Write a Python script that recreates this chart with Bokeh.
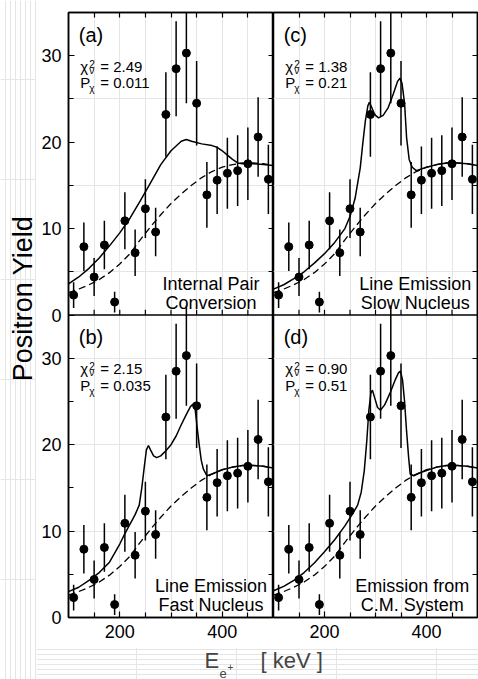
import numpy as np
from bokeh.plotting import figure
from bokeh.models import LinearAxis, FixedTicker, Label, Range1d, ColumnDataSource, Span
from bokeh.layouts import row, column
from bokeh.embed import file_html
from bokeh.resources import INLINE

FONT = "Liberation Sans"

# ---------------- data ----------------
energy = [110, 130, 150, 170, 190, 210, 230, 250, 270, 290,
          310, 330, 350, 370, 390, 410, 430, 450, 470, 490]
yield_counts = [2.3, 7.9, 4.4, 8.1, 1.5, 10.9, 7.2, 12.3, 9.6, 23.2,
                28.5, 30.3, 24.5, 13.9, 15.6, 16.4, 16.7, 17.5, 20.6, 15.7]
yield_err = [1.5, 2.8, 2.2, 2.8, 1.2, 3.3, 2.7, 3.4, 2.8, 4.9,
             5.5, 5.8, 4.9, 3.8, 3.9, 4.1, 4.1, 4.2, 4.6, 4.0]

# dashed background curve
bg_x = [100, 120, 140, 160, 180, 200, 220, 240, 260, 280, 300,
        320, 340, 360, 380, 400, 420, 440, 460, 480, 500]
bg_y = [2.6, 3.0, 3.5, 4.1, 4.9, 5.9, 7.1, 8.7, 10.2, 11.6, 12.9,
        14.0, 15.0, 15.9, 16.6, 17.1, 17.4, 17.6, 17.6, 17.5, 17.3]

# (a) internal pair conversion fit
fit_a_x = [100, 120, 140, 160, 180, 200, 220, 240, 260, 280, 300, 320, 330,
           340, 360, 380, 390, 400, 410, 420, 430, 440, 460, 480, 500]
fit_a_y = [3.6, 4.4, 5.4, 6.6, 8.0, 9.5, 11.2, 13.2, 15.3, 17.4, 19.0, 20.1, 20.3,
           20.1, 19.8, 19.6, 19.4, 19.0, 18.5, 18.0, 17.6, 17.5, 17.5, 17.4, 17.3]

# (b) line emission, fast nucleus
fit_b_x = [100, 120, 140, 160, 180, 200, 210, 220, 230, 238, 243, 248, 252, 256,
           260, 266, 272, 280, 290, 300, 310, 320, 330, 338, 343, 347, 351, 355,
           359, 363, 370, 380, 400, 420, 440, 460, 480, 500]
fit_b_y = [3.0, 3.5, 4.3, 5.2, 6.4, 8.5, 9.7, 10.8, 11.9, 13.0, 15.0, 17.5, 19.4, 19.9,
           19.4, 18.7, 18.5, 18.7, 19.3, 20.0, 21.0, 22.3, 23.5, 24.4, 24.7, 24.2, 22.0, 20.0,
           18.2, 17.2, 16.4, 16.6, 17.1, 17.4, 17.6, 17.6, 17.5, 17.3]

# (c) line emission, slow nucleus
fit_c_x = [100, 120, 140, 160, 180, 200, 220, 240, 250, 260, 270, 275, 280, 285,
           288, 292, 297, 300, 306, 315, 325, 335, 343, 348, 352, 357, 361, 366,
           372, 380, 400, 420, 440, 460, 480, 500]
fit_c_y = [3.0, 3.5, 4.2, 5.0, 6.0, 7.1, 8.4, 10.0, 11.4, 13.5, 17.0, 19.8, 22.4, 24.2,
           24.6, 24.1, 23.4, 23.1, 22.8, 23.1, 24.0, 25.6, 27.0, 27.4, 26.8, 24.5, 20.5, 18.0,
           17.1, 16.7, 17.1, 17.4, 17.6, 17.6, 17.5, 17.3]

# (d) emission from the C.M. system
fit_d_x = [100, 120, 140, 160, 180, 200, 220, 240, 255, 265, 272, 278, 283, 287,
           291, 294, 298, 304, 310, 318, 328, 338, 345, 349, 353, 357, 361, 365,
           368, 375, 390, 400, 420, 440, 460, 480, 500]
fit_d_y = [3.1, 3.6, 4.3, 5.2, 6.3, 7.6, 9.0, 10.6, 12.0, 13.0, 14.5, 17.0, 20.5, 24.0,
           26.0, 26.3, 25.5, 24.3, 24.0, 24.6, 25.9, 27.4, 28.3, 28.5, 27.5, 25.0, 21.5, 18.5,
           16.6, 16.4, 16.8, 17.0, 17.4, 17.6, 17.6, 17.5, 17.3]

panel_tags = ["(a)", "(b)", "(c)", "(d)"]
chi2_values = ["2.49", "2.15", "1.38", "0.90"]
p_values = ["0.011", "0.035", "0.21", "0.51"]
descriptions = [["Internal Pair", "Conversion"],
                ["Line Emission", "Fast Nucleus"],
                ["Line Emission", "Slow Nucleus"],
                ["Emission from", "C.M. System"]]
x_ticks = [200, 400]
x_minor = [150, 250, 300, 350, 450]
y_ticks = [0, 10, 20, 30]
y_minor = [5, 15, 25]
Y_MAX = 35  # each panel spans 0..35

# ---------------- layout ----------------
YLAB_W = 36
LEFT_B = 32
FRAME_W_L, FRAME_W_R = 205, 204
FRAME_H = 605
TOP_B = 12
BOT_B = 30
XLAB_H = 32


def style_axis(ax):
    ax.major_tick_in = 6
    ax.major_tick_out = 0
    ax.minor_tick_in = 5
    ax.minor_tick_out = 0
    ax.major_tick_line_width = 1.2
    ax.minor_tick_line_width = 1.2
    ax.axis_line_width = 1.5
    ax.axis_line_color = "black"
    ax.major_tick_line_color = "black"
    ax.minor_tick_line_color = "black"
    ax.major_label_text_font = FONT
    ax.major_label_text_font_size = "18px"
    ax.major_label_text_color = "black"
    ax.major_label_standoff = 7
    return ax


def tick_only_axis(positions):
    ax = LinearAxis(ticker=FixedTicker(ticks=[], minor_ticks=sorted(positions)))
    style_axis(ax)
    ax.major_label_standoff = 0
    return ax


def draw_panel(p, idx, fit_x, fit_y, rname):
    xs = np.array(energy, dtype=float)
    ys = np.array(yield_counts, dtype=float)
    es = np.array(yield_err, dtype=float)
    src = ColumnDataSource(dict(x=xs, y=ys, lo=ys - es, hi=ys + es))
    p.segment(x0="x", y0="lo", x1="x", y1="hi", source=src, line_color="black",
              line_width=1.5, y_range_name=rname)
    p.scatter(x="x", y="y", source=src, size=8, color="black", y_range_name=rname)
    p.line(bg_x, bg_y, line_color="black", line_width=1.3, line_dash="7 4", y_range_name=rname)
    p.line(fit_x, fit_y, line_color="black", line_width=1.5, y_range_name=rname)

    def lab(x, y, text, size, **kw):
        p.add_layout(Label(x=x, y=y, text=text, text_font=FONT, text_font_size=size,
                           text_color="black", y_range_name=rname, **kw))

    lab(120, 32.4, panel_tags[idx], "20px", text_baseline="middle")
    ax0, l1, l2 = 123, 27.8, 25.9
    lab(ax0, l1, "χ", "15px")
    lab(ax0, l1, "2", "10px", x_offset=9, y_offset=7)
    lab(ax0, l1, "ν", "10px", x_offset=9, y_offset=-1)
    lab(ax0, l1, "=  " + chi2_values[idx], "15px", x_offset=20)
    lab(ax0, l2, "P", "15px")
    lab(ax0, l2, "χ", "10px", x_offset=9, y_offset=-3)
    lab(ax0, l2, "=  " + p_values[idx], "15px", x_offset=20)
    cx = 378 if idx < 3 else 372
    for line, yy in zip(descriptions[idx], [3.6, 1.4]):
        lab(cx, yy, line, "18px", text_align="center", text_baseline="alphabetic")


def make_column(left, top_idx, bot_idx, top_fit, bot_fit):
    fw = FRAME_W_L if left else FRAME_W_R
    width = fw + (LEFT_B if left else 1)
    height = FRAME_H + TOP_B + BOT_B
    # lower panel uses the default range (0..35 in the lower half),
    # upper panel its own range (0..35 in the upper half)
    p = figure(width=width, height=height, x_range=Range1d(100, 500),
               y_range=Range1d(0, 2 * Y_MAX),
               x_axis_location=None, y_axis_location=None,
               output_backend="svg", toolbar_location=None, min_border=0)
    p.extra_y_ranges = {"top": Range1d(-Y_MAX, Y_MAX)}
    p.min_border_left = LEFT_B if left else 0
    p.min_border_right = 0 if left else 1
    p.min_border_top = TOP_B
    p.min_border_bottom = BOT_B
    p.outline_line_color = "black"
    p.outline_line_width = 1.5
    p.background_fill_color = "white"
    p.border_fill_color = "white"

    bx = LinearAxis(ticker=FixedTicker(ticks=x_ticks, minor_ticks=x_minor))
    p.add_layout(style_axis(bx), "below")
    p.add_layout(tick_only_axis(x_ticks + x_minor), "above")
    all_y = [v for v in y_ticks + y_minor] + [v + Y_MAX for v in y_ticks + y_minor if v > 0]
    if left:
        major = y_ticks + [v + Y_MAX for v in y_ticks]
        minor = y_minor + [v + Y_MAX for v in y_minor]
        ly = LinearAxis(ticker=FixedTicker(ticks=major, minor_ticks=minor))
        style_axis(ly)
        ly.major_label_overrides = {v + Y_MAX: str(v) for v in y_ticks}
        p.add_layout(ly, "left")
    p.add_layout(tick_only_axis(all_y), "right")

    # divider between the two panels, with inward ticks of the upper panel
    p.add_layout(Span(location=Y_MAX, dimension="width", line_color="black", line_width=1.5))
    tx = np.array(sorted(x_ticks + x_minor), dtype=float)
    p.segment(x0=tx, y0=np.zeros_like(tx), x1=tx, y1=np.full_like(tx, 0.6),
              line_color="black", line_width=1.2, y_range_name="top")

    draw_panel(p, top_idx, top_fit[0], top_fit[1], "top")
    draw_panel(p, bot_idx, bot_fit[0], bot_fit[1], "default")
    return p


left_col = make_column(True, 0, 1, (fit_a_x, fit_a_y), (fit_b_x, fit_b_y))
right_col = make_column(False, 2, 3, (fit_c_x, fit_c_y), (fit_d_x, fit_d_y))

total_h = FRAME_H + TOP_B + BOT_B + XLAB_H
grid_w = (FRAME_W_L + LEFT_B) + (FRAME_W_R + 1)

ylab = figure(width=YLAB_W, height=total_h, x_range=Range1d(0, YLAB_W), y_range=Range1d(0, total_h),
              x_axis_location=None, y_axis_location=None, output_backend="svg",
              toolbar_location=None, min_border=0)
ylab.outline_line_color = None
ylab.add_layout(Label(x=22, y=total_h - 298, text="Positron Yield", angle=np.pi / 2,
                      text_font=FONT, text_font_size="27px", text_align="center",
                      text_baseline="middle", text_color="black"))

xlab = figure(width=grid_w, height=XLAB_H, x_range=Range1d(0, grid_w), y_range=Range1d(0, XLAB_H),
              x_axis_location=None, y_axis_location=None, output_backend="svg",
              toolbar_location=None, min_border=0)
xlab.outline_line_color = None
xlab.add_layout(Label(x=168, y=7, text="E", text_font=FONT, text_font_size="22px"))
xlab.add_layout(Label(x=183, y=2, text="e", text_font=FONT, text_font_size="13px"))
xlab.add_layout(Label(x=191, y=9, text="+", text_font=FONT, text_font_size="10px"))
xlab.add_layout(Label(x=224, y=7, text="[  keV  ]", text_font=FONT, text_font_size="22px"))

layout = row(ylab, column(row(left_col, right_col), xlab))

open("out.html", "w").write(file_html(layout, INLINE))
